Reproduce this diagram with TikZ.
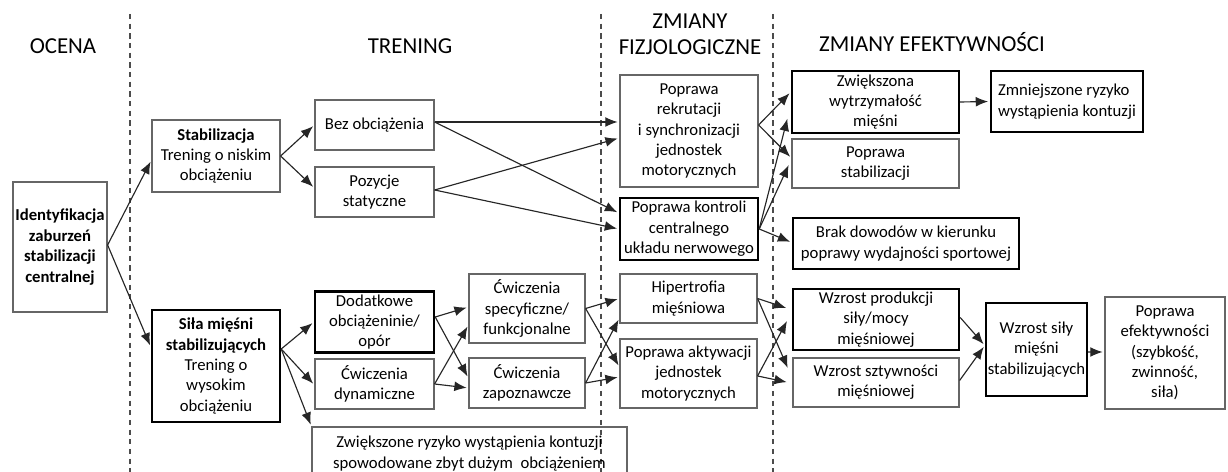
\documentclass[tikz,border=0pt]{standalone}
\usepackage{fontspec}
\setmainfont{Carlito}
\usetikzlibrary{shapes}
\usetikzlibrary{arrows.meta}
\usetikzlibrary{calc}

\begin{document}
\begin{tikzpicture}[x=0.02cm,y=-0.02cm]
\tikzstyle{block} = [rectangle, draw=black!60, line width=0.7pt, align=center,
inner sep=1pt, font=\fontsize{9.5}{11.6}\selectfont]
\tikzstyle{bblock} = [block, draw=black, line width=1.4pt]
\tikzstyle{head} = [align=center, font=\fontsize{13}{14.7}\selectfont]
\tikzstyle{line} = [draw, line width=0.65pt, black!85, -{Latex[length=7pt,width=5.6pt]}, shorten >=1pt]
\tikzstyle{sep} = [draw, black!70, line width=0.6pt, dash pattern=on 3pt off 2.5pt]
\useasboundingbox (0,0) rectangle (1228,472);
% headings
\node [head] (ocena) at (63,46) {OCENA};
\node [head] (trening) at (410,46) {TRENING};
\node [head] (fizjo) at (690,34) {ZMIANY\\FIZJOLOGICZNE};
\node [head] (efekt) at (932,42) {ZMIANY EFEKTYWNOŚCI};
% separators
\coordinate (s1a) at (130,14); \coordinate (s1b) at (130,472);
\coordinate (s2a) at (601,14); \coordinate (s2b) at (601,472);
\coordinate (s3a) at (773,14); \coordinate (s3b) at (773,472);
\draw[sep] (s1a) -- (s1b);
\draw[sep] (s2a) -- (s2b);
\draw[sep] (s3a) -- (s3b);
% column 1
\node [block, minimum width=1.88cm, minimum height=2.6cm] (ident) at (60,247)
{\bfseries Identyfikacja\\\bfseries zaburzeń\\\bfseries stabilizacji\\\bfseries centralnej};
% column 2
\node [block, minimum width=2.56cm, minimum height=1.44cm] (stab) at (216,156)
{\textbf{Stabilizacja}\\Trening o niskim\\obciążeniu};
\node [bblock, minimum width=2.56cm, minimum height=2.24cm] (sila) at (216,366)
{\textbf{Siła mięśni}\\\textbf{stabilizujących}\\Trening o\\wysokim\\obciążeniu};
% column 3
\node [block, minimum width=2.38cm, minimum height=1cm] (bez) at (374.5,125) {Bez obciążenia};
\node [block, minimum width=2.38cm, minimum height=1cm] (poz) at (374.5,192) {Pozycje\\statyczne};
\node [bblock, minimum width=2.38cm, minimum height=1.22cm] (dod) at (374.5,322) {Dodatkowe\\obciążeninie/\\opór};
\node [block, minimum width=2.38cm, minimum height=1cm] (dyn) at (374.5,384) {Ćwiczenia\\dynamiczne};
\node [block, minimum width=6.3cm, minimum height=1.06cm] (ryz) at (469.5,453.5)
{Zwiększone ryzyko wystąpienia kontuzji\\spowodowane zbyt dużym\ \ obciążeniem};
% column 4
\node [block, minimum width=2.32cm, minimum height=1.38cm] (spec) at (527,308.5) {Ćwiczenia\\specyficzne/\\funkcjonalne};
\node [block, minimum width=2.32cm, minimum height=1cm] (zap) at (527,383) {Ćwiczenia\\zapoznawcze};
% column 5
\node [block, minimum width=2.76cm, minimum height=2.24cm] (rek) at (689,131)
{Poprawa\\rekrutacji\\i synchronizacji\\jednostek\\motorycznych};
\node [bblock, minimum width=2.76cm, minimum height=1.24cm] (kon) at (689,229)
{Poprawa kontroli\\centralnego\\układu nerwowego};
\node [block, minimum width=2.74cm, minimum height=0.98cm] (hip) at (688.5,298.5) {Hipertrofia\\mięśniowa};
\node [block, minimum width=2.74cm, minimum height=1.38cm] (akt) at (688.5,373.5)
{Poprawa aktywacji\\jednostek\\motorycznych};
% column 6
\node [bblock, minimum width=3.34cm, minimum height=1.24cm] (zwi) at (875.5,102) {Zwiększona\\wytrzymałość\\mięśni};
\node [block, minimum width=3.34cm, minimum height=0.98cm] (stb) at (875.5,163.5) {Poprawa\\stabilizacji};
\node [bblock, minimum width=4.52cm, minimum height=1.02cm] (brak) at (906,243.5)
{Brak dowodów w kierunku\\poprawy wydajności sportowej};
\node [bblock, minimum width=3.32cm, minimum height=1.22cm] (prod) at (876,319.5) {Wzrost produkcji\\siły/mocy\\mięśniowej};
\node [block, minimum width=3.32cm, minimum height=0.98cm] (szt) at (876,382.5) {Wzrost sztywności\\mięśniowej};
% column 7
\node [bblock, minimum width=3.04cm, minimum height=1.22cm, align=left] (zmn) at (1067,101.5)
{Zmniejszone ryzyko\\wystąpienia kontuzji};
\node [bblock, minimum width=1.94cm, minimum height=1.86cm] (wsil) at (1036.5,349.5) {Wzrost siły\\mięśni\\stabilizujących};
\node [block, minimum width=2.4cm, minimum height=2.24cm] (efek) at (1165,353)
{Poprawa\\efektywności\\(szybkość,\\zwinność,\\siła)};
% arrows
\draw[line] ($(ident.east)+(0,-2)$) -- ($(stab.west)+(0,4)$);
\draw[line] ($(ident.east)+(0,-2)$) -- ($(sila.west)+(0,-19)$);
\draw[line] (stab.east) -- (bez.west);
\draw[line] (stab.east) -- ($(poz.west)+(0,-4)$);
\draw[line] ($(sila.east)+(0,-17)$) -- (dod.west);
\draw[line] ($(sila.east)+(0,-17)$) -- ($(dyn.west)+(0,1)$);
\draw[line] ($(sila.east)+(0,-17)$) -- (ryz.north west);
\draw[line] ($(bez.east)+(0,-3)$) -- ($(rek.west)+(0,-9)$);
\draw[line] ($(bez.east)+(0,-3)$) -- ($(kon.west)+(0,-16)$);
\draw[line] ($(poz.east)+(0,-2)$) -- ($(rek.west)+(0,7)$);
\draw[line] ($(poz.east)+(0,-2)$) -- (kon.west);
\draw[line] ($(dod.east)+(0,-5)$) -- ($(spec.west)+(0,-1.5)$);
\draw[line] ($(dod.east)+(0,-5)$) -- ($(zap.west)+(0,-5)$);
\draw[line] (dyn.east) -- ($(spec.west)+(0,16.5)$);
\draw[line] (dyn.east) -- ($(zap.west)+(0,5)$);
\draw[line] (spec.east) -- (hip.west);
\draw[line] (spec.east) -- ($(akt.west)+(0,-6.5)$);
\draw[line] (zap.east) -- ($(hip.west)+(0,19.5)$);
\draw[line] (zap.east) -- ($(akt.west)+(0,3.5)$);
\draw[line] ($(rek.east)+(0,-6)$) -- ($(zwi.west)+(0,-10)$);
\draw[line] ($(rek.east)+(0,-6)$) -- ($(stb.west)+(0,-5.5)$);
\draw[line] (kon.east) -- ($(zwi.west)+(-3,15)$);
\draw[line] (kon.east) -- ($(stb.west)+(-2,0)$);
\draw[line] (kon.east) -- ($(brak.west)+(0,-1)$);
\draw[line] (hip.east) -- ($(prod.west)+(-4,-11)$);
\draw[line] (hip.east) -- ($(szt.west)+(-4,-13)$);
\draw[line] ($(akt.east)+(0,2.5)$) -- ($(prod.west)+(-4,0)$);
\draw[line] ($(akt.east)+(0,2.5)$) -- ($(szt.west)+(-4,0)$);
\draw[line] (zwi.east) -- (zmn.west);
\draw[line] ($(prod.east)+(0,-2)$) -- ($(wsil.west)+(0,-4)$);
\draw[line] ($(szt.east)+(0,-2)$) -- ($(wsil.west)+(0,-4)$);
\draw[line] ($(wsil.east)+(0,2.5)$) -- ($(efek.west)+(0,-1)$);
\end{tikzpicture}
\end{document}
